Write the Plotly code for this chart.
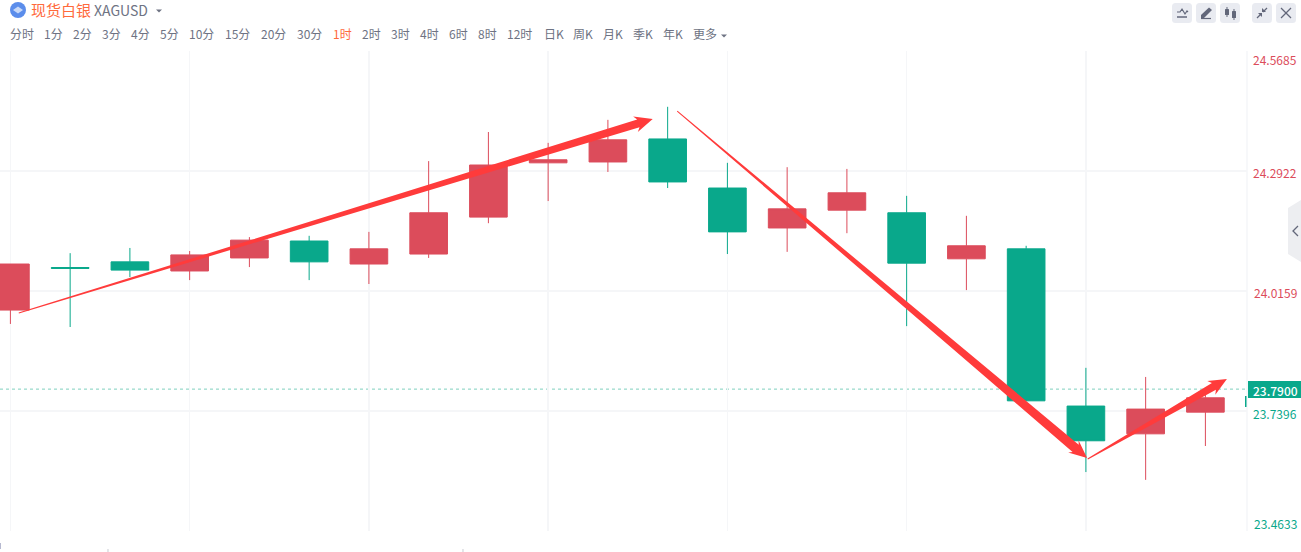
import plotly.graph_objects as go

# ---------- data ----------
candle_index = list(range(21))
open_p  = [23.972, 24.070, 24.083, 24.062, 24.092, 24.131, 24.078, 24.101, 24.186, 24.311, 24.313,
           24.366, 24.253, 24.161, 24.202, 24.196, 24.090, 24.113, 23.751, 23.687, 23.737]
close_p = [24.078, 24.068, 24.064, 24.099, 24.133, 24.083, 24.113, 24.196, 24.306, 24.318, 24.364,
           24.267, 24.152, 24.205, 24.242, 24.080, 24.120, 23.763, 23.671, 23.744, 23.770]
high_p  = [24.078, 24.103, 24.115, 24.108, 24.140, 24.143, 24.152, 24.315, 24.382, 24.357, 24.410,
           24.440, 24.311, 24.301, 24.297, 24.235, 24.189, 24.120, 23.839, 23.818, 23.793]
low_p   = [23.940, 23.933, 24.048, 24.041, 24.071, 24.041, 24.032, 24.092, 24.172, 24.223, 24.290,
           24.253, 24.101, 24.106, 24.149, 23.935, 24.018, 23.763, 23.599, 23.581, 23.659]
price_ticks = [24.5685, 24.2922, 24.0159, 23.7396, 23.4633]
price_labels = ["24.5685", "24.2922", "24.0159", "23.7396", "23.4633"]
last_price = 23.79
last_label = "23.7900"

arrow_tail_x = [0.14, 11.16, 18.03]
arrow_tail_y = [23.9652, 24.4303, 23.629]
arrow_tip_x  = [10.75, 18.02, 20.36]
arrow_tip_y  = [24.412, 23.6314, 23.8135]

periods = ["分时", "1分", "2分", "3分", "4分", "5分", "10分", "15分", "20分", "30分", "1时", "2时",
           "3时", "4时", "6时", "8时", "12时", "日K", "周K", "月K", "季K", "年K", "更多"]
active_period = "1时"
title_cn = "现货白银"
title_code = "XAGUSD"

# ---------- layout constants ----------
W, H = 1301, 552
PLOT_L, PLOT_R, PLOT_T, PLOT_B = 0, 1247, 51, 531
STEP = 59.75
X0 = 10.4
XMIN = (PLOT_L - X0) / STEP
XMAX = (PLOT_R - X0) / STEP
YMIN, YMAX = price_ticks[-1], price_ticks[0]
PX_PER_X = STEP
PX_PER_Y = (PLOT_B - PLOT_T) / (YMAX - YMIN)

RED, GREEN = "#DC4C5B", "#09A88B"
ARROW = "#FF3B3B"
GRID = "#F5F6F8"
GREY = "#6E7383"
ICON_BG, ICON_FG = "#E9EBF1", "#62677A"
ORANGE = "#FF6A3C"
FONT = "Noto Sans CJK SC"
period_left = [10, 44, 73, 102, 131, 160, 189, 225, 261, 297, 333, 362, 391, 420, 449, 478, 507,
               544, 573, 603, 633, 663, 693]
arrow_neck = [8, 9.5, 8]


def px(x):
    return x / W


def py(y):
    return 1 - y / H


def path(points, close=True):
    s = " ".join(("M" if i == 0 else "L") + f"{px(x):.5f},{py(y):.5f}" for i, (x, y) in enumerate(points))
    return s + (" Z" if close else "")


def arrow_polygon(x0, y0, x1, y1, neck, tail=1.0, head_w=16, head_len=17):
    """Tapered arrow, from a thin tail to a barbed head; widths in screen px."""
    dx, dy = (x1 - x0) * PX_PER_X, (y1 - y0) * PX_PER_Y
    length = (dx * dx + dy * dy) ** 0.5
    ux, uy = dx / length, dy / length
    nx, ny = -uy, ux

    def at(along, side):
        return (x0 + (ux * along + nx * side) / PX_PER_X,
                y0 + (uy * along + ny * side) / PX_PER_Y)

    b = length - head_len
    pts = [at(0, tail / 2), at(b + 2, neck / 2), at(b - 1, head_w / 2), at(length, 0),
           at(b - 1, -head_w / 2), at(b + 2, -neck / 2), at(0, -tail / 2)]
    return [p[0] for p in pts] + [pts[0][0]], [p[1] for p in pts] + [pts[0][1]]


fig = go.Figure()
fig.add_trace(go.Candlestick(
    x=candle_index, open=open_p, high=high_p, low=low_p, close=close_p,
    increasing=dict(line=dict(color=RED, width=1), fillcolor=RED),
    decreasing=dict(line=dict(color=GREEN, width=1), fillcolor=GREEN),
    whiskerwidth=0, hoverinfo="skip", showlegend=False,
))
for tx, ty, hx, hy, neck in zip(arrow_tail_x, arrow_tail_y, arrow_tip_x, arrow_tip_y, arrow_neck):
    ax, ay = arrow_polygon(tx, ty, hx, hy, neck)
    fig.add_trace(go.Scatter(x=ax, y=ay, mode="lines", fill="toself", fillcolor=ARROW,
                             line=dict(width=0, color=ARROW), hoverinfo="skip", showlegend=False))

shapes = []
annotations = []


def text(x, y, s, color, size=12, anchor="left", weight=None):
    annotations.append(dict(xref="paper", yref="paper", x=px(x), y=py(y), text=s, showarrow=False,
                            xanchor=anchor, yanchor="middle", align=anchor,
                            font=dict(family=FONT, size=size, color=color, weight=weight),
                            borderpad=0, borderwidth=0))


def poly(points, fill):
    shapes.append(dict(type="path", xref="paper", yref="paper", path=path(points),
                       fillcolor=fill, line=dict(width=0), layer="above"))


def stroke(points, color, width=1.5):
    shapes.append(dict(type="path", xref="paper", yref="paper", path=path(points, close=False),
                       line=dict(color=color, width=width), layer="above"))


def rrect(x0, y0, x1, y1, r, fill):
    d = (f"M{px(x0 + r)},{py(y0)} L{px(x1 - r)},{py(y0)} Q{px(x1)},{py(y0)} {px(x1)},{py(y0 + r)} "
         f"L{px(x1)},{py(y1 - r)} Q{px(x1)},{py(y1)} {px(x1 - r)},{py(y1)} L{px(x0 + r)},{py(y1)} "
         f"Q{px(x0)},{py(y1)} {px(x0)},{py(y1 - r)} L{px(x0)},{py(y0 + r)} Q{px(x0)},{py(y0)} {px(x0 + r)},{py(y0)} Z")
    shapes.append(dict(type="path", xref="paper", yref="paper", path=d, fillcolor=fill,
                       line=dict(width=0), layer="above"))


# header
shapes.append(dict(type="circle", xref="paper", yref="paper", x0=px(10), x1=px(26), y0=py(18), y1=py(2),
                   fillcolor="#5B8DEB", line=dict(width=0), layer="above"))
poly([(13, 10), (18, 6.5), (23, 10), (18, 13.5)], "#C8D9F8")
text(31, 10, title_cn, ORANGE, 15)
text(94, 9.5, title_code, GREY, 14)
poly([(156, 9.5), (162, 9.5), (159, 12.5)], GREY)
for label, left in zip(periods, period_left):
    text(left, 33.5, label, ORANGE if label == active_period else GREY, 12)
poly([(721, 34.5), (727, 34.5), (724, 37.5)], GREY)

# toolbar
for left in (1172, 1196, 1220, 1252, 1276):
    rrect(left, 3, left + 20, 23, 3.5, ICON_BG)
stroke([(1177, 12), (1180, 12), (1182, 9), (1185, 14), (1187, 11), (1188, 12)], ICON_FG, 1.2)
stroke([(1177, 17), (1187, 17)], ICON_FG, 1.5)
poly([(1201, 15), (1209, 7.5), (1212, 10), (1204, 18), (1201, 18)], ICON_FG)
stroke([(1201, 18.5), (1211, 18.5)], ICON_FG, 1.2)
rrect(1225, 9, 1229, 15, 0.5, ICON_FG)
rrect(1232, 11, 1236, 18, 0.5, ICON_FG)
stroke([(1227, 7), (1227, 17)], ICON_FG, 1)
stroke([(1234, 9), (1234, 20)], ICON_FG, 1)
stroke([(1257, 18), (1261, 14)], ICON_FG, 1.3)
poly([(1258, 13), (1262, 13), (1262, 17)], ICON_FG)
stroke([(1267, 8), (1263, 12)], ICON_FG, 1.3)
poly([(1262, 8), (1262, 12), (1266, 12)], ICON_FG)
stroke([(1281, 8), (1291, 18)], ICON_FG, 1.2)
stroke([(1291, 8), (1281, 18)], ICON_FG, 1.2)

# right drawer handle
poly([(1301, 200), (1288, 208), (1288, 254), (1301, 262)], "#EDEEF1")
stroke([(1298, 226), (1293, 231), (1298, 236)], ICON_FG, 1.3)

# last price
shapes.append(dict(type="line", xref="paper", yref="y", x0=0, x1=PLOT_R / W, y0=last_price, y1=last_price,
                   line=dict(color="#7FD0BE", width=1, dash="3px,3px"), layer="below"))
poly([(1248, 381), (1301, 381), (1301, 398), (1248, 398)], GREEN)
text(1275, 390, last_label, "#FFFFFF", 12, "center", 500)
poly([(1245, 396), (1246.5, 396), (1246.5, 407), (1245, 407)], GREEN)

# price labels
label_y = [59, 172.5, 292.5, 413.5, 523.5]
for value, label, y in zip(price_ticks, price_labels, label_y):
    text(1297, y, label, RED if value > last_price else GREEN, 12, "right")

# stray marks at the bottom edge
stroke([(108, 549), (108, 552)], "#C9CBD2", 1)
stroke([(463, 549), (463, 552)], "#C9CBD2", 1)
stroke([(0.5, 543), (0.5, 549)], "#B6B9D0", 1)

fig.update_layout(
    width=W, height=H, autosize=False,
    margin=dict(l=0, r=0, t=0, b=0, pad=0),
    paper_bgcolor="#FFFFFF", plot_bgcolor="#FFFFFF",
    showlegend=False, boxgap=0.1, hovermode=False,
    xaxis=dict(domain=[PLOT_L / W, PLOT_R / W], range=[XMIN, XMAX], type="linear",
               rangeslider=dict(visible=False), tickvals=candle_index[::3], showticklabels=False,
               ticks="", showgrid=True, gridcolor=GRID, gridwidth=1.5, zeroline=False, showline=False),
    yaxis=dict(domain=[1 - PLOT_B / H, 1 - PLOT_T / H], range=[YMIN, YMAX], tickvals=price_ticks,
               showticklabels=False, ticks="", showgrid=True, gridcolor=GRID, gridwidth=1.5,
               zeroline=False, showline=False),
    shapes=shapes + [dict(type="line", xref="paper", yref="paper", x0=PLOT_R / W, x1=PLOT_R / W,
                          y0=py(PLOT_B), y1=py(PLOT_T), line=dict(color=GRID, width=1.5), layer="below")],
    annotations=annotations,
)

fig.write_html("out.html", config=dict(displayModeBar=False, staticPlot=True),
               post_script="document.body.style.margin='0';document.body.style.overflow='hidden';")
